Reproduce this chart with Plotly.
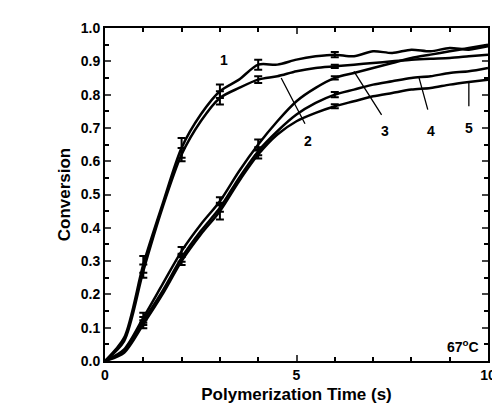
import plotly.graph_objects as go

t = [0, 0.5, 1, 1.5, 2, 2.5, 3, 3.5, 4, 4.5, 5, 5.5, 6, 6.5, 7, 7.5, 8, 8.5, 9, 9.5, 10]
c1 = [0, 0.07, 0.29, 0.47, 0.64, 0.74, 0.81, 0.845, 0.89, 0.89, 0.905, 0.915, 0.92, 0.915, 0.93, 0.925, 0.935, 0.93, 0.94, 0.935, 0.945]
c2 = [0, 0.06, 0.27, 0.46, 0.62, 0.72, 0.79, 0.82, 0.845, 0.855, 0.87, 0.88, 0.885, 0.89, 0.895, 0.9, 0.905, 0.908, 0.91, 0.915, 0.92]
c3 = [0, 0.035, 0.13, 0.23, 0.33, 0.41, 0.48, 0.57, 0.65, 0.72, 0.78, 0.82, 0.85, 0.865, 0.88, 0.895, 0.91, 0.92, 0.93, 0.94, 0.95]
c4 = [0, 0.03, 0.12, 0.21, 0.31, 0.39, 0.46, 0.55, 0.63, 0.69, 0.74, 0.775, 0.80, 0.815, 0.83, 0.84, 0.85, 0.855, 0.865, 0.87, 0.88]
c5 = [0, 0.025, 0.11, 0.2, 0.30, 0.38, 0.45, 0.54, 0.62, 0.68, 0.72, 0.745, 0.765, 0.78, 0.795, 0.805, 0.815, 0.82, 0.83, 0.838, 0.845]
curves = [c1, c2, c3, c4, c5]
err_t = [1, 2, 3, 4, 6]
err = [[0.025, 0.03, 0.02, 0.015, 0.008],
       [0.02, 0.02, 0.02, 0.01, 0.005],
       [0.015, 0.012, 0.012, 0.015, 0.005],
       [0.012, 0.012, 0.012, 0.012, 0.008],
       [0.012, 0.012, 0.025, 0.012, 0.006]]
labels = ["1", "2", "3", "4", "5"]
label_pos = [(3.1, 0.905), (5.3, 0.66), (7.3, 0.69), (8.5, 0.69), (9.5, 0.70)]
arrow_tip = [None, (4.6, 0.85), (6.5, 0.87), (8.2, 0.85), (9.5, 0.835)]

FAM = "Liberation Sans, Arial"
fig = go.Figure()
for c, e in zip(curves, err):
    fig.add_trace(go.Scatter(x=t, y=c, mode="lines", line=dict(color="black", width=2.5, shape="spline", smoothing=0.8),
                             showlegend=False))
    ey = [c[t.index(x)] for x in err_t]
    fig.add_trace(go.Scatter(x=err_t, y=ey, mode="markers", marker=dict(size=1, color="black"),
                             error_y=dict(type="data", array=e, color="black", thickness=2, width=4),
                             showlegend=False))

font = dict(family=FAM, size=14, color="black")
for i, (lab, pos) in enumerate(zip(labels, label_pos)):
    tip = arrow_tip[i]
    if tip is not None:
        fig.add_annotation(x=tip[0], y=tip[1], ax=pos[0], ay=pos[1] + 0.035, axref="x", ayref="y",
                           text=" ", showarrow=True, arrowhead=0, arrowwidth=1.3, arrowcolor="black")
    fig.add_annotation(x=pos[0], y=pos[1], text="<b>%s</b>" % lab, showarrow=False, font=font)
fig.add_annotation(x=9.35, y=0.045, text="<b>67<sup>o</sup>C</b>", showarrow=False, font=font)

axis_common = dict(showline=True, linecolor="black", linewidth=2, mirror="ticks", ticks="inside",
                   tickwidth=1.5, ticklen=6, showgrid=False, zeroline=False,
                   tickfont=dict(family=FAM, size=14, color="black", weight="bold"))
fig.update_xaxes(range=[0, 10], dtick=5, minor=dict(dtick=1, ticks="inside", ticklen=4, tickcolor="black"),
                 title=dict(text="<b>Polymerization Time (s)</b>", font=dict(family=FAM, size=17, color="black"), standoff=6),
                 **axis_common)
fig.update_yaxes(range=[0, 1.0], dtick=0.1, tickformat=".1f",
                 minor=dict(dtick=0.05, ticks="inside", ticklen=4, tickcolor="black"),
                 title=dict(text="<b>Conversion</b>", font=dict(family=FAM, size=17, color="black"), standoff=6),
                 **axis_common)
fig.update_layout(width=500, height=409, margin=dict(l=97, r=13, t=12, b=56),
                  plot_bgcolor="white", paper_bgcolor="white")
fig.write_html("out.html")
